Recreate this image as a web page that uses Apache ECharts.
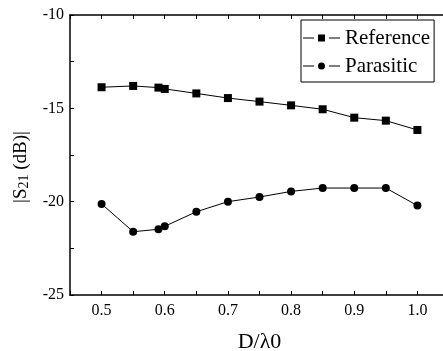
<!DOCTYPE html>
<html>
<head>
<meta charset="utf-8">
<script src="https://cdn.jsdelivr.net/npm/echarts@6/dist/echarts.min.js"></script>
<style>
  html, body { margin: 0; padding: 0; background: #fff; }
  #chart { width: 443px; height: 351px; }
</style>
</head>
<body>
<div id="chart"></div>
<script>
// D/lambda0 values and |S21| readings (dB)
var ratios = [0.5, 0.55, 0.59, 0.6, 0.65, 0.7, 0.75, 0.8, 0.85, 0.9, 0.95, 1.0];
var referenceVals = [-13.87, -13.8, -13.89, -13.96, -14.2, -14.45, -14.64, -14.84, -15.05, -15.5, -15.66, -16.16];
var parasiticVals = [-20.12, -21.61, -21.48, -21.32, -20.54, -20.0, -19.75, -19.45, -19.27, -19.27, -19.27, -20.21];

var font = 'Liberation Serif';

// legend glyphs: dash, marker, dash
var squareIcon = 'path://M0,3H11V4H0Z M15,0H22V7H15Z M26,3H37V4H26Z';
var circleIcon = 'path://M0,3H11V4H0Z M15,3.5A3.5,3.5,0,1,0,22,3.5A3.5,3.5,0,1,0,15,3.5Z M26,3H37V4H26Z';

function pairs(xs, ys) {
    return xs.map(function (x, i) { return [x, ys[i]]; });
}

var chart = echarts.init(document.getElementById('chart'));

function frameAxis(extra) {
    return Object.assign({
        type: 'value',
        axisLine: { lineStyle: { color: '#000', width: 1.5 } },
        axisTick: { show: true, inside: true, length: 4, lineStyle: { color: '#000' } },
        axisLabel: { show: false },
        splitLine: { show: false }
    }, extra);
}

chart.setOption({
    animation: false,
    backgroundColor: '#fff',
    grid: { left: 70, top: 15, width: 379, height: 280, outerBoundsMode: 'none', containLabel: false },
    legend: {
        left: 301,
        top: 20,
        orient: 'vertical',
        backgroundColor: '#fff',
        borderColor: '#000',
        borderWidth: 1,
        borderRadius: 0,
        padding: [7, 4, 5, 2],
        itemGap: 6,
        itemWidth: 37,
        itemHeight: 7,
        textStyle: { fontFamily: font, fontSize: 21, lineHeight: 22, color: '#000' },
        data: [
            { name: 'Reference', icon: squareIcon },
            { name: 'Parasitic', icon: circleIcon }
        ]
    },
    xAxis: [{
        type: 'value',
        min: 0.45,
        max: 1.05,
        interval: 0.05,
        name: 'D/λ0',
        nameLocation: 'middle',
        nameGap: 36,
        nameTextStyle: { fontFamily: font, fontSize: 22, color: '#000' },
        axisLine: { lineStyle: { color: '#000', width: 1.5 } },
        axisTick: { inside: true, length: 4, lineStyle: { color: '#000' } },
        axisLabel: {
            fontFamily: font, fontSize: 16, color: '#000', margin: 8,
            formatter: function (v) {
                var k = Math.round(v * 100);
                return (k % 10 === 0 && k >= 50 && k <= 100) ? (k / 100).toFixed(1) : '';
            }
        },
        splitLine: { show: false }
    }, frameAxis({ position: 'top', min: 0.45, max: 1.05, interval: 0.05 })],
    yAxis: [{
        type: 'value',
        min: -25,
        max: -10,
        interval: 2.5,
        name: '|S{s|21} (dB)|',
        nameLocation: 'middle',
        nameRotate: 90,
        nameGap: 33,
        nameTextStyle: {
            fontFamily: font, fontSize: 19, color: '#000', padding: [0, 24, 0, 0],
            rich: {
                s: { fontFamily: font, fontSize: 14, verticalAlign: 'bottom', padding: [8, 0, 0, 0] }
            }
        },
        axisLine: { lineStyle: { color: '#000', width: 1.5 } },
        axisTick: { inside: true, length: 4, lineStyle: { color: '#000' } },
        axisLabel: {
            fontFamily: font, fontSize: 16, color: '#000', margin: 6,
            formatter: function (v) { return v % 5 === 0 ? String(v) : ''; }
        },
        splitLine: { show: false }
    }, frameAxis({ position: 'right', min: -25, max: -10, interval: 2.5 })],
    series: [{
        name: 'Reference',
        type: 'line',
        data: pairs(ratios, referenceVals),
        symbol: 'rect',
        symbolSize: 8,
        itemStyle: { color: '#000' },
        lineStyle: { color: '#000', width: 1 }
    }, {
        name: 'Parasitic',
        type: 'line',
        data: pairs(ratios, parasiticVals),
        symbol: 'circle',
        symbolSize: 8,
        itemStyle: { color: '#000' },
        lineStyle: { color: '#000', width: 1 }
    }]
});
</script>
</body>
</html>
